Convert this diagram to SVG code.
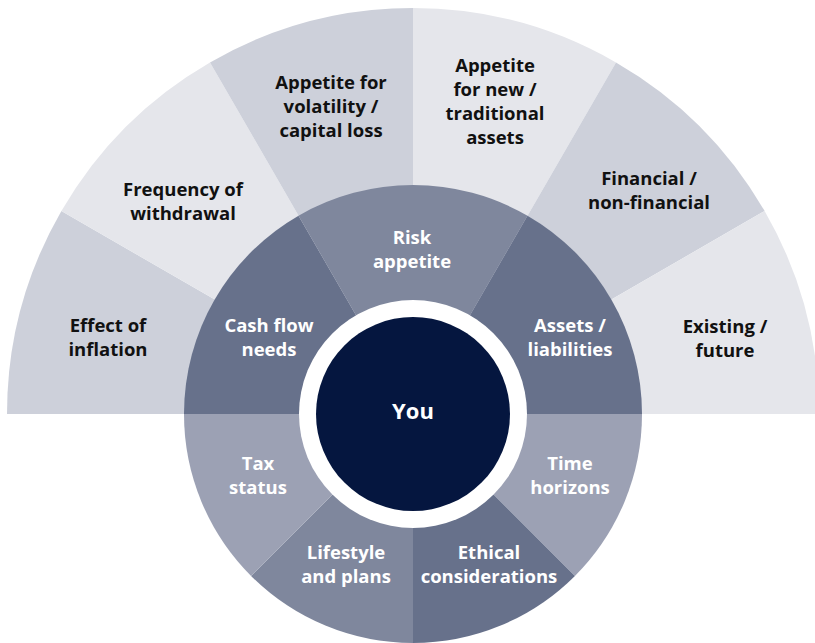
<svg xmlns="http://www.w3.org/2000/svg" width="815" height="643" viewBox="0 0 815 643">
<style>
.o1{fill:#cdd0da}
.o2{fill:#e5e6eb}
.i1{fill:#67718b}
.i2{fill:#7f879d}
.i3{fill:#9ca1b4}
text{font-family:"Open Sans","Liberation Sans",sans-serif;font-weight:700;font-size:18.5px;text-anchor:middle}
.dk{fill:#111111}
.lt{fill:#ffffff}
</style>
<rect width="815" height="643" fill="#ffffff"/>
<g id="outer-effect"><path class="o1" d="M413 414 L7 414 A406 406 0 0 1 61.39 211 Z"/><text class="dk" x="108" y="332">Effect of</text><text class="dk" x="108" y="356">inflation</text></g>
<g id="outer-frequency"><path class="o2" d="M413 414 L61.39 211 A406 406 0 0 1 210 62.39 Z"/><text class="dk" x="183" y="196">Frequency of</text><text class="dk" x="183" y="220">withdrawal</text></g>
<g id="outer-volatility"><path class="o1" d="M413 414 L210 62.39 A406 406 0 0 1 413 8 Z"/><text class="dk" x="331" y="89">Appetite for</text><text class="dk" x="331" y="113">volatility /</text><text class="dk" x="331" y="137">capital loss</text></g>
<g id="outer-new"><path class="o2" d="M413 414 L413 8 A406 406 0 0 1 616 62.39 Z"/><text class="dk" x="495" y="72">Appetite</text><text class="dk" x="495" y="96">for new /</text><text class="dk" x="495" y="120">traditional</text><text class="dk" x="495" y="144">assets</text></g>
<g id="outer-financial"><path class="o1" d="M413 414 L616 62.39 A406 406 0 0 1 764.61 211 Z"/><text class="dk" x="649" y="185">Financial /</text><text class="dk" x="649" y="209">non-financial</text></g>
<g id="outer-existing"><path class="o2" d="M413 414 L764.61 211 A406 406 0 0 1 819 414 Z"/><text class="dk" x="725" y="333">Existing /</text><text class="dk" x="725" y="357">future</text></g>
<g id="inner-cash"><path class="i1" d="M413 414 L184 414 A229 229 0 0 1 298.5 215.68 Z"/><text class="lt" x="269" y="332">Cash flow</text><text class="lt" x="269" y="356">needs</text></g>
<g id="inner-risk"><path class="i2" d="M413 414 L298.5 215.68 A229 229 0 0 1 527.5 215.68 Z"/><text class="lt" x="412" y="244">Risk</text><text class="lt" x="412" y="268">appetite</text></g>
<g id="inner-assets"><path class="i1" d="M413 414 L527.5 215.68 A229 229 0 0 1 642 414 Z"/><text class="lt" x="570" y="332">Assets /</text><text class="lt" x="570" y="356">liabilities</text></g>
<g id="inner-time"><path class="i3" d="M413 414 L642 414 A229 229 0 0 1 574.93 575.93 Z"/><text class="lt" x="570" y="470">Time</text><text class="lt" x="570" y="494">horizons</text></g>
<g id="inner-ethical"><path class="i1" d="M413 414 L574.93 575.93 A229 229 0 0 1 413 643 Z"/><text class="lt" x="489" y="559">Ethical</text><text class="lt" x="489" y="583">considerations</text></g>
<g id="inner-lifestyle"><path class="i2" d="M413 414 L413 643 A229 229 0 0 1 251.07 575.93 Z"/><text class="lt" x="346" y="559">Lifestyle</text><text class="lt" x="346" y="583">and plans</text></g>
<g id="inner-tax"><path class="i3" d="M413 414 L251.07 575.93 A229 229 0 0 1 184 414 Z"/><text class="lt" x="258" y="470">Tax</text><text class="lt" x="258" y="494">status</text></g>
<g id="center-you"><circle cx="413" cy="414" r="114" fill="#ffffff"/><circle cx="413" cy="414" r="97" fill="#05163f"/><text class="lt" x="413" y="419" style="font-size:22px">You</text></g>
</svg>
